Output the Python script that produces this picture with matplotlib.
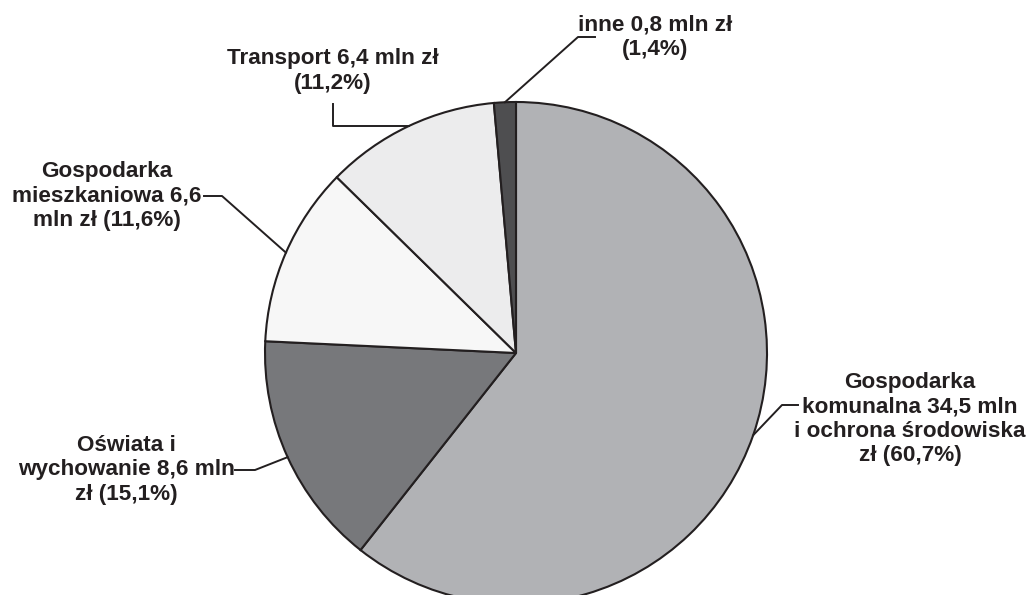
import numpy as np
import matplotlib.pyplot as plt

# dane
categories = ['Gospodarka komunalna i ochrona środowiska', 'Oświata i wychowanie',
              'Gospodarka mieszkaniowa', 'Transport', 'inne']
values = [34.5, 8.6, 6.6, 6.4, 0.8]
shares = ['60,7%', '15,1%', '11,6%', '11,2%', '1,4%']
labels = ['Gospodarka\nkomunalna 34,5 mln\ni ochrona środowiska\nzł (60,7%)',
          'Oświata i\nwychowanie 8,6 mln\nzł (15,1%)',
          'Gospodarka\nmieszkaniowa 6,6\nmln zł (11,6%)',
          'Transport 6,4 mln zł\n(11,2%)',
          'inne 0,8 mln zł\n(1,4%)']
colors = ['#b1b2b5', '#77787b', '#f7f7f7', '#ececed', '#4e4e50']

W, H = 1028, 595
ink = '#231f20'
plt.rcParams['font.family'] = ['Liberation Sans', 'DejaVu Sans']

fig = plt.figure(figsize=(W / 100, H / 100), dpi=100)
ax = fig.add_axes([0, 0, 1, 1])

cx, cy, r = 516, H - 353, 251
wedges, _ = ax.pie(values, colors=colors, startangle=90, counterclock=False,
                   center=(cx, cy), radius=r,
                   wedgeprops=dict(edgecolor=ink, linewidth=1.5))
ax.set_xlim(0, W)
ax.set_ylim(0, H)
ax.set_aspect('equal')
ax.axis('off')

# pozycje etykiet (w pikselach obrazu, y od góry) i punkt załamania linii
text_pos = [(910, 419), (126, 470), (107, 196), (333, 71), (655, 37)]
elbows = [[(798, 405), (782, 405)],
          [(235, 470), (255, 470)],
          [(204, 196), (222, 196)],
          [(333, 104), None],
          [(595, 37), (578, 37)]]

for w, lab, (tx, ty), el in zip(wedges, labels, text_pos, elbows):
    ang = np.deg2rad((w.theta1 + w.theta2) / 2)
    ax_, ay_ = cx + r * np.cos(ang), cy + r * np.sin(ang)
    ax.text(tx, H - ty, lab, ha='center', va='center', fontsize=16.2,
            fontweight='bold', color=ink, linespacing=1.2)
    p0, p1 = el
    if p1 is None:
        p1 = (p0[0], H - ay_)
    xs = [p0[0], p1[0], ax_]
    ys = [H - p0[1], H - p1[1], ay_]
    ax.plot(xs, ys, color=ink, linewidth=1.4, clip_on=False)

fig.savefig('out.png', dpi=100)
